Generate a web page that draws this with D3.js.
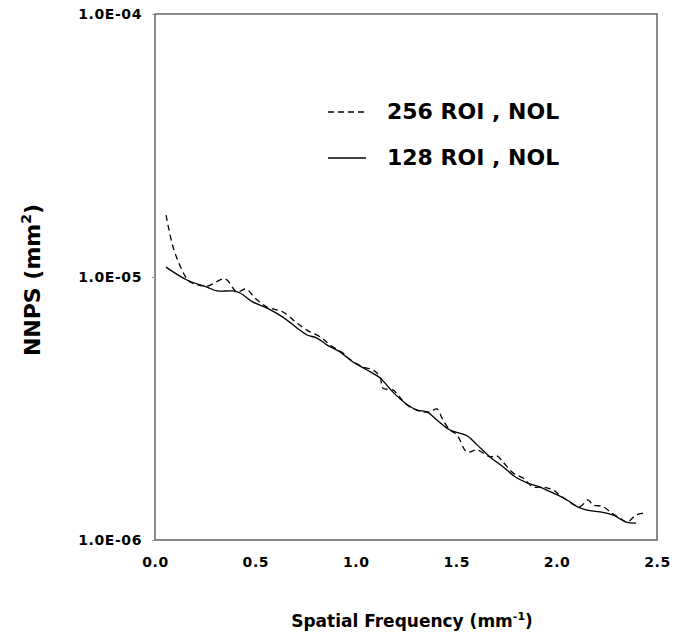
<!DOCTYPE html>
<html>
<head>
<meta charset="utf-8">
<script src="https://cdn.jsdelivr.net/npm/d3@7"></script>
<style>
  body { margin: 0; background: #fff; }
  svg { font-family: "DejaVu Sans", Verdana, sans-serif; font-weight: bold; }
</style>
</head>
<body>
<div id="chart"></div>
<script>
// spatial frequency (mm^-1) and NNPS (mm^2)
const freq256 = [0.055, 0.09, 0.134, 0.159, 0.174, 0.259, 0.349, 0.408, 0.453, 0.498,
  0.558, 0.637, 0.707, 0.757, 0.832, 0.872, 0.936, 0.961, 1.036, 1.086,
  1.121, 1.135, 1.185, 1.21, 1.255, 1.32, 1.369, 1.404, 1.434, 1.469,
  1.504, 1.554, 1.604, 1.668, 1.703, 1.733, 1.783, 1.833, 1.883, 1.932,
  1.982, 2.017, 2.067, 2.117, 2.156, 2.181, 2.231, 2.266, 2.316, 2.351,
  2.396, 2.44];
const nnps256 = [17.2, 13.0, 10.63, 9.83, 9.57, 9.24, 9.83, 8.77, 9.0, 8.32,
  7.69, 7.36, 6.68, 6.28, 5.86, 5.51, 5.14, 4.92, 4.55, 4.43,
  4.17, 3.78, 3.72, 3.56, 3.26, 3.09, 3.07, 3.15, 2.86, 2.62,
  2.51, 2.16, 2.2, 2.07, 2.09, 1.98, 1.8, 1.72, 1.59, 1.59,
  1.55, 1.48, 1.39, 1.34, 1.42, 1.36, 1.34, 1.28, 1.21, 1.17,
  1.245, 1.27].map((v) => v * 1e-6);

const freq128 = [0.055, 0.159, 0.259, 0.309, 0.388, 0.423, 0.488, 0.558, 0.637, 0.707,
  0.757, 0.807, 0.857, 0.921, 0.986, 1.056, 1.121, 1.185, 1.245, 1.305,
  1.355, 1.404, 1.469, 1.554, 1.604, 1.668, 1.733, 1.793, 1.853, 1.917,
  1.982, 2.052, 2.102, 2.151, 2.216, 2.281, 2.346, 2.396];
const nnps128 = [10.9, 9.74, 9.16, 8.85, 8.85, 8.69, 8.03, 7.62, 7.04, 6.4,
  6.02, 5.86, 5.51, 5.19, 4.75, 4.43, 4.13, 3.65, 3.32, 3.12,
  3.07, 2.86, 2.62, 2.49, 2.3, 2.07, 1.9, 1.74, 1.65, 1.59,
  1.51, 1.42, 1.34, 1.3, 1.28, 1.245, 1.17, 1.16].map((v) => v * 1e-6);

const xTicks = [0, 0.5, 1.0, 1.5, 2.0, 2.5];
const yTicks = [1e-6, 1e-5, 1e-4];
const yTickLabels = ["1.0E-06", "1.0E-05", "1.0E-04"];
const seriesNames = ["256 ROI , NOL", "128 ROI , NOL"];

const W = 683, H = 639;
const plot = { left: 155, right: 657, top: 14, bottom: 540 };
const font = "'DejaVu Sans', Verdana, sans-serif";

const svg = d3
  .select("#chart")
  .append("svg")
  .attr("width", W)
  .attr("height", H);

const x = d3.scaleLinear().domain([0, 2.5]).range([plot.left, plot.right]);
const y = d3.scaleLog().domain([1e-6, 1e-4]).range([plot.bottom, plot.top]);

// plot frame
svg
  .append("rect")
  .attr("x", plot.left)
  .attr("y", plot.top)
  .attr("width", plot.right - plot.left)
  .attr("height", plot.bottom - plot.top)
  .attr("fill", "none")
  .attr("stroke", "#666")
  .attr("stroke-width", 1.5);

// x axis
const xAxis = svg
  .append("g")
  .attr("transform", `translate(0,${plot.bottom})`)
  .call(d3.axisBottom(x).tickValues(xTicks).tickFormat(d3.format(".1f")).tickSize(0).tickPadding(17));
xAxis.attr("font-size", 14).attr("font-family", font).attr("font-weight", "bold");
xAxis.select(".domain").remove();
xAxis.selectAll("text").attr("fill", "#000").attr("letter-spacing", 0.6);

// y axis
const yAxis = svg
  .append("g")
  .attr("transform", `translate(${plot.left},0)`)
  .call(
    d3.axisLeft(y)
      .tickValues(yTicks)
      .tickFormat((d, i) => yTickLabels[i])
      .tickSize(3)
      .tickPadding(10)
  );
yAxis.attr("font-size", 14).attr("font-family", font).attr("font-weight", "bold");
yAxis.select(".domain").remove();
yAxis.selectAll("line").attr("stroke", "#999");
yAxis.selectAll("text").attr("fill", "#000").attr("dy", "0.35em").attr("letter-spacing", 0.6);

// curves
const line = d3
  .line()
  .x((d) => x(d[0]))
  .y((d) => y(d[1]))
  .curve(d3.curveCatmullRom.alpha(0.5));

svg
  .append("path")
  .datum(freq256.map((f, i) => [f, nnps256[i]]))
  .attr("d", line)
  .attr("fill", "none")
  .attr("stroke", "#000")
  .attr("stroke-width", 1.3)
  .attr("stroke-dasharray", "6,4");

svg
  .append("path")
  .datum(freq128.map((f, i) => [f, nnps128[i]]))
  .attr("d", line)
  .attr("fill", "none")
  .attr("stroke", "#000")
  .attr("stroke-width", 1.3);

// legend
const legend = svg.append("g");
seriesNames.forEach((name, i) => {
  const ly = 112 + i * 46;
  legend
    .append("line")
    .attr("x1", 328)
    .attr("x2", 366)
    .attr("y1", ly)
    .attr("y2", ly)
    .attr("stroke", "#000")
    .attr("stroke-width", 1.3)
    .attr("stroke-dasharray", i === 0 ? "6,4" : null);
  legend
    .append("text")
    .attr("x", 387)
    .attr("y", ly + 7)
    .style("font-size", "22px")
    .text(name);
});

// axis titles
const xt = svg
  .append("text")
  .attr("x", 412)
  .attr("y", 627)
  .attr("text-anchor", "middle")
  .style("font-size", "17px")
  .text("Spatial Frequency (mm");
xt.append("tspan").attr("dy", -7).style("font-size", "11px").text("-1");
xt.append("tspan").attr("dy", 7).text(")");

const yt = svg
  .append("text")
  .attr("transform", "translate(40,280) rotate(-90)")
  .attr("text-anchor", "middle")
  .style("font-size", "22px")
  .text("NNPS (mm");
yt.append("tspan").attr("dy", -9).style("font-size", "14px").text("2");
yt.append("tspan").attr("dy", 9).text(")");
</script>
</body>
</html>
